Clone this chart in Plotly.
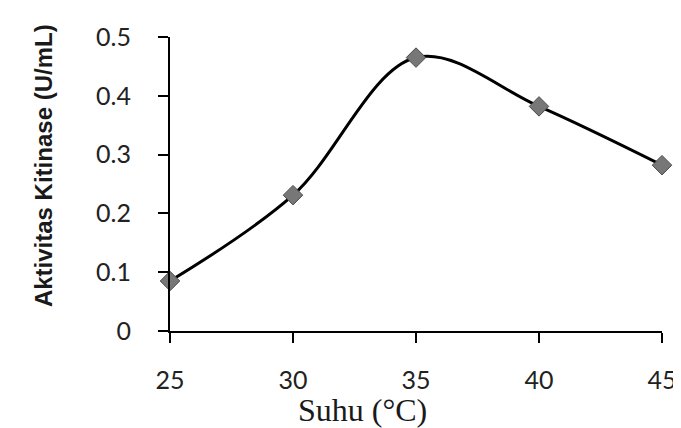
import plotly.graph_objects as go

suhu = [25, 30, 35, 40, 45]
aktivitas = [0.085, 0.231, 0.465, 0.382, 0.282]
y_ticks = [0, 0.1, 0.2, 0.3, 0.4, 0.5]
y_ticklabels = ["0", "0.1", "0.2", "0.3", "0.4", "0.5"]
x_ticks = [25, 30, 35, 40, 45]

W, H = 681, 428
L, R, T, B = 162, 15, 29, 105
pw, ph = W - L - R, H - T - B

def px_x(px):
    return (px - L) / pw

def px_y(py):
    return (H - B - py) / ph

fig = go.Figure()
fig.add_trace(go.Scatter(
    x=suhu, y=aktivitas, mode="lines+markers",
    line=dict(color="black", width=3, shape="spline", smoothing=1),
    marker=dict(symbol="diamond", size=15, color="#777777",
                line=dict(color="#4a4a4a", width=1)),
    cliponaxis=False, showlegend=False,
))

fig.update_layout(
    width=W, height=H,
    margin=dict(l=L, r=R, t=T, b=B),
    paper_bgcolor="white", plot_bgcolor="white",
    xaxis=dict(range=[25, 45], tickvals=x_ticks, showgrid=False, zeroline=False,
               showline=True, linecolor="black", linewidth=2,
               ticks="outside", ticklen=10, tickwidth=2, tickcolor="black",
               tickfont=dict(family="Lato", size=25, color="#222222"),
               ticklabelstandoff=16),
    yaxis=dict(range=[0, 0.5], tickvals=y_ticks, ticktext=y_ticklabels,
               showgrid=False, zeroline=False,
               showline=True, linecolor="black", linewidth=2,
               ticks="outside", ticklen=10, tickwidth=2, tickcolor="black",
               tickfont=dict(family="Lato", size=25, color="#222222"),
               ticklabelstandoff=22),
    annotations=[
        dict(text="<b>Aktivitas Kitinase (U/mL)</b>", textangle=-90,
             xref="paper", yref="paper", x=px_x(32), y=px_y(158),
             xanchor="center", yanchor="middle", showarrow=False,
             font=dict(family="Liberation Sans", size=24, color="#1a1a1a")),
        dict(text="Suhu (°C)",
             xref="paper", yref="paper", x=px_x(359), y=px_y(402),
             xanchor="center", yanchor="middle", showarrow=False,
             font=dict(family="Liberation Serif", size=32, color="#1a1a1a")),
    ],
    shapes=[
        dict(type="line", xref="paper", yref="paper",
             x0=px_x(679), x1=px_x(679), y0=px_y(355), y1=px_y(395),
             line=dict(color="#999999", width=1)),
    ],
)

fig.write_html("out.html")
